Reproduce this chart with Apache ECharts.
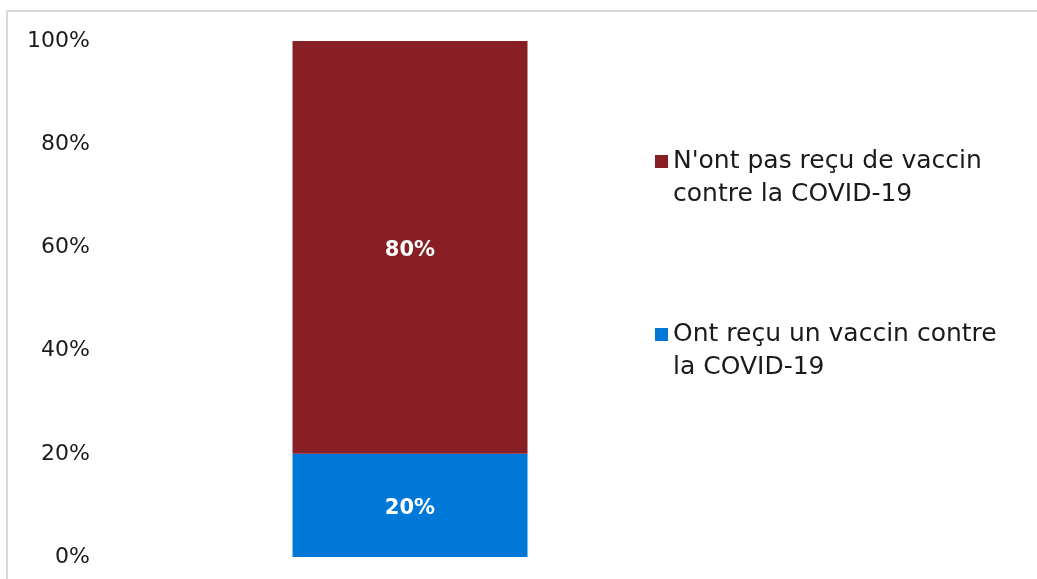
<!DOCTYPE html>
<html>
<head>
<meta charset="utf-8">
<script src="https://cdn.jsdelivr.net/npm/echarts@6/dist/echarts.min.js"></script>
<style>
  html, body { margin: 0; padding: 0; background: #fff; }
  #chart { width: 1037px; height: 579px; }
</style>
</head>
<body>
<div id="chart"></div>
<script>
// Vaccination status shares (percent)
const categories = [''];
const vaccinated = [20];
const notVaccinated = [80];
const seriesNames = ['Ont reçu un vaccin contre\nla COVID-19', "N'ont pas reçu de vaccin\ncontre la COVID-19"];
const yTicks = [0, 20, 40, 60, 80, 100];

const FONT = 'DejaVu Sans';
const chart = echarts.init(document.getElementById('chart'));

const barLabel = {
  show: true,
  position: 'inside',
  offset: [0, 3],
  color: '#fff',
  fontFamily: FONT,
  fontWeight: 'bold',
  fontSize: 21,
  formatter: p => p.value + '%'
};

chart.setOption({
  animation: false,
  graphic: [{
    type: 'rect',
    shape: { x: 7, y: 11, width: 1100, height: 700 },
    style: { fill: 'none', stroke: '#d9d9d9', lineWidth: 2 },
    silent: true
  }],
  grid: { left: 100, right: 317, top: 41, bottom: 22 },
  legend: {
    orient: 'vertical',
    left: 650,
    top: 107,
    itemWidth: 13,
    itemHeight: 13,
    itemGap: 74,
    icon: 'rect',
    data: [seriesNames[1], seriesNames[0]],
    // a blank leading line keeps the marker level with the first text line
    formatter: name => ' \n' + name,
    textStyle: {
      fontFamily: FONT,
      fontSize: 25,
      color: '#1a1a1a',
      lineHeight: 33
    }
  },
  xAxis: {
    type: 'category',
    data: categories,
    axisLine: { show: false },
    axisTick: { show: false },
    axisLabel: { show: false }
  },
  yAxis: {
    type: 'value',
    min: yTicks[0],
    max: yTicks[yTicks.length - 1],
    interval: 20,
    axisLine: { show: false },
    axisTick: { show: false },
    splitLine: { show: false },
    axisLabel: {
      fontFamily: FONT,
      fontSize: 22,
      color: '#1a1a1a',
      margin: 10,
      formatter: v => v + '%'
    }
  },
  series: [
    {
      name: seriesNames[0],
      type: 'bar',
      stack: 'total',
      barWidth: 235,
      data: vaccinated,
      itemStyle: { color: '#0078D7' },
      label: barLabel
    },
    {
      name: seriesNames[1],
      type: 'bar',
      stack: 'total',
      barWidth: 235,
      data: notVaccinated,
      itemStyle: { color: '#881F24' },
      label: barLabel
    }
  ]
});
</script>
</body>
</html>
